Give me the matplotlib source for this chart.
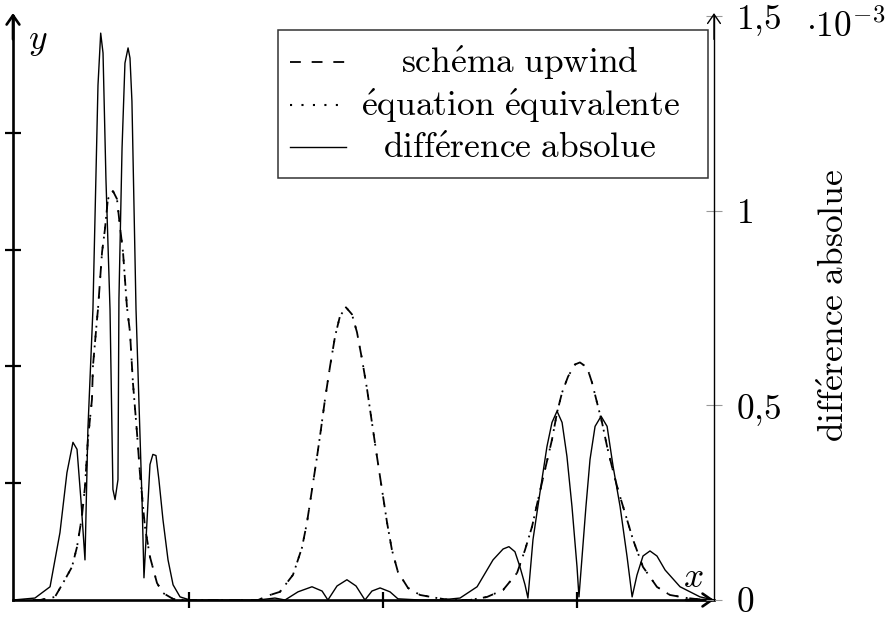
import matplotlib.pyplot as plt
from matplotlib.lines import Line2D
from matplotlib.patches import Rectangle

plt.rcParams['mathtext.fontset'] = 'cm'
plt.rcParams['font.family'] = 'serif'
plt.rcParams['font.serif'] = ['cmr10', 'DejaVu Serif']

# upwind scheme (left axis, arbitrary units)
x_upwind = [0.093, 0.232, 0.309, 0.351, 0.397, 0.423, 0.448, 0.464, 0.479, 0.500,
            0.505, 0.526, 0.531, 0.552, 0.567, 0.582, 0.608, 0.629, 0.644, 0.660,
            0.670, 0.680, 0.696, 0.711, 0.732, 0.747, 0.773, 0.799, 0.835, 0.866,
            0.918, 0.979,
            1.356, 1.418, 1.469, 1.536, 1.582, 1.608, 1.634, 1.660, 1.680, 1.701,
            1.727, 1.753, 1.778, 1.809, 1.840, 1.866, 1.892, 1.918, 1.943, 1.969,
            1.995, 2.021, 2.046, 2.077, 2.129, 2.191, 2.278, 2.345,
            2.448, 2.536, 2.619, 2.691, 2.732, 2.768, 2.799, 2.835, 2.871, 2.897,
            2.923, 2.954, 2.990, 3.015, 3.052, 3.077, 3.103, 3.129, 3.155, 3.180,
            3.211, 3.247, 3.289, 3.340, 3.412, 3.479, 3.567, 3.660, 3.706]
u_upwind = [0.0, 0.0, 0.026, 0.146, 0.283, 0.455, 0.712, 0.970, 1.373, 1.717,
            2.000, 2.403, 2.489, 2.979, 3.176, 3.433, 3.502, 3.433, 3.202, 2.979,
            2.747, 2.515, 2.292, 1.863, 1.433, 1.090, 0.627, 0.369, 0.146, 0.060,
            0.009, 0.0,
            0.0, 0.043, 0.070, 0.215, 0.446, 0.661, 0.944, 1.227, 1.459, 1.717,
            2.000, 2.258, 2.429, 2.506, 2.446, 2.292, 2.060, 1.803, 1.519, 1.227,
            0.944, 0.661, 0.429, 0.240, 0.103, 0.043, 0.017, 0.0,
            0.0, 0.026, 0.086, 0.232, 0.429, 0.627, 0.858, 1.116, 1.373, 1.605,
            1.777, 1.914, 2.017, 2.034, 1.991, 1.863, 1.691, 1.519, 1.313, 1.142,
            0.944, 0.747, 0.515, 0.283, 0.112, 0.043, 0.017, 0.0, 0.0]
# equivalent equation: indistinguishable from the scheme at this scale
u_equation = list(u_upwind)

# absolute difference (right axis, x 1e-3)
x_diff = [0.093, 0.206, 0.284, 0.335, 0.371, 0.402, 0.423, 0.443, 0.464, 0.479,
          0.505, 0.531, 0.545, 0.557, 0.572, 0.593, 0.608, 0.619, 0.634, 0.639,
          0.655, 0.670, 0.686, 0.696, 0.706, 0.727, 0.758, 0.768, 0.784, 0.799,
          0.814, 0.830, 0.845, 0.866, 0.892, 0.918, 0.954, 1.005,
          1.356, 1.443, 1.495, 1.562, 1.634, 1.686, 1.716, 1.763, 1.814, 1.861,
          1.907, 1.943, 1.985, 2.036, 2.077, 2.191,
          2.294, 2.397, 2.485, 2.567, 2.619, 2.649, 2.680, 2.706, 2.732, 2.747,
          2.773, 2.809, 2.845, 2.871, 2.897, 2.923, 2.948, 2.974, 3.000, 3.010,
          3.026, 3.046, 3.067, 3.093, 3.124, 3.155, 3.186, 3.222, 3.258, 3.284,
          3.309, 3.340, 3.376, 3.412, 3.454, 3.531, 3.634, 3.706]
diff_e3 = [0.0, 0.005, 0.034, 0.173, 0.327, 0.405, 0.387, 0.258, 0.103, 0.438,
           0.747, 1.322, 1.456, 1.405, 1.082, 0.747, 0.284, 0.258, 0.309, 0.773,
           1.160, 1.379, 1.418, 1.392, 1.281, 0.747, 0.258, 0.057, 0.206, 0.348,
           0.374, 0.371, 0.309, 0.206, 0.103, 0.039, 0.008, 0.0,
           0.0, 0.005, 0.0, 0.021, 0.034, 0.023, 0.0, 0.036, 0.052, 0.036,
           0.0, 0.023, 0.031, 0.021, 0.003, 0.0,
           0.0, 0.005, 0.034, 0.103, 0.131, 0.137, 0.124, 0.085, 0.039, 0.005,
           0.155, 0.276, 0.394, 0.456, 0.485, 0.456, 0.369, 0.240, 0.085, 0.008,
           0.111, 0.240, 0.361, 0.446, 0.472, 0.446, 0.343, 0.240, 0.111, 0.008,
           0.064, 0.113, 0.126, 0.113, 0.077, 0.034, 0.008, 0.0]

x_ticks = [1, 2, 3]
y_ticks = [1, 2, 3, 4]
diff_ticks = [0, 0.5, 1, 1.5]
diff_ticklabels = [r'$0$', r'$0{,}5$', r'$1$', r'$1{,}5$']
legend_labels = [r'$\mathrm{sch\'ema\ upwind}$',
                 r'$\mathrm{\'equation\ \'equivalente}$',
                 r'$\mathrm{diff\'erence\ absolue}$']

W, H = 892, 617
FS = 25.5
dashed = (0, (6, 6))
dotted = (0, (1, 4.5))

fig = plt.figure(figsize=(W / 100, H / 100), dpi=100)
ax = fig.add_axes([13 / W, 17 / H, 701 / W, 584 / H])

ax.plot(x_upwind, u_upwind, color='black', lw=1.3, linestyle=dashed)
ax.plot(x_upwind, u_equation, color='black', lw=1.3, linestyle=dotted)
ax.set_xlim(0.093, 3.706)
ax.set_ylim(0, 5)
ax.set_xticks(x_ticks)
ax.set_xticklabels([])
ax.set_yticks(y_ticks)
ax.set_yticklabels([])
ax.tick_params(direction='inout', length=12, width=1.6)
for s in ['top', 'right']:
    ax.spines[s].set_visible(False)
ax.spines['left'].set_linewidth(1.9)
ax.spines['bottom'].set_linewidth(1.9)

ax2 = ax.twinx()
ax2.plot(x_diff, diff_e3, color='black', lw=1.0)
ax2.set_ylim(0, 1.5)
ax2.set_yticks(diff_ticks)
ax2.set_yticklabels(diff_ticklabels)
ax2.tick_params(axis='y', direction='inout', length=12, width=0.8,
                color='#999999', labelcolor='black', pad=10, labelsize=FS)
for s in ['top', 'left', 'bottom']:
    ax2.spines[s].set_visible(False)
ax2.spines['right'].set_linewidth(1.0)

# arrow heads
head = dict(arrowstyle='->,head_length=0.33,head_width=0.23', color='black',
            mutation_scale=20, shrinkA=0, shrinkB=0)
ax.annotate('', xy=(0, 1.005), xytext=(0, 0.96), xycoords='axes fraction',
            arrowprops=dict(head, lw=1.9), annotation_clip=False)
ax.annotate('', xy=(1.0, 0), xytext=(0.96, 0), xycoords='axes fraction',
            arrowprops=dict(head, lw=1.9), annotation_clip=False)
ax2.annotate('', xy=(1, 1.005), xytext=(1, 0.96), xycoords='axes fraction',
             arrowprops=dict(head, lw=1.0), annotation_clip=False)

ax.text(15 / 701, 1 - 26 / 584, r'$y$', transform=ax.transAxes, fontsize=FS,
        ha='left', va='center')
ax.text(680 / 701, 22 / 584, r'$x$', transform=ax.transAxes,
        fontsize=FS, ha='center', va='center')

fig.text(835 / W, 1 - 305 / H, legend_labels[2], rotation=90, fontsize=FS,
         ha='center', va='center')
fig.text(806 / W, 1 - 37 / H, r'$\cdot 10^{-3}$', fontsize=FS,
         ha='left', va='baseline')

# legend box
fig.add_artist(Rectangle((278 / W, 1 - 178 / H), 430 / W, 148 / H,
                         transform=fig.transFigure, fill=False,
                         edgecolor='#333333', lw=1.1))
styles = [dict(linestyle=dashed, lw=1.3), dict(linestyle=dotted, lw=1.5),
          dict(linestyle='-', lw=1.0)]
row_y = [62, 105, 147]
for label, st, ry in zip(legend_labels, styles, row_y):
    fig.add_artist(Line2D([290 / W, 346 / W], [1 - ry / H, 1 - ry / H],
                          transform=fig.transFigure, color='black', **st))
    fig.text(520 / W, 1 - (ry + 11) / H, label, fontsize=FS,
             ha='center', va='baseline')

fig.savefig('out.png', dpi=100)
